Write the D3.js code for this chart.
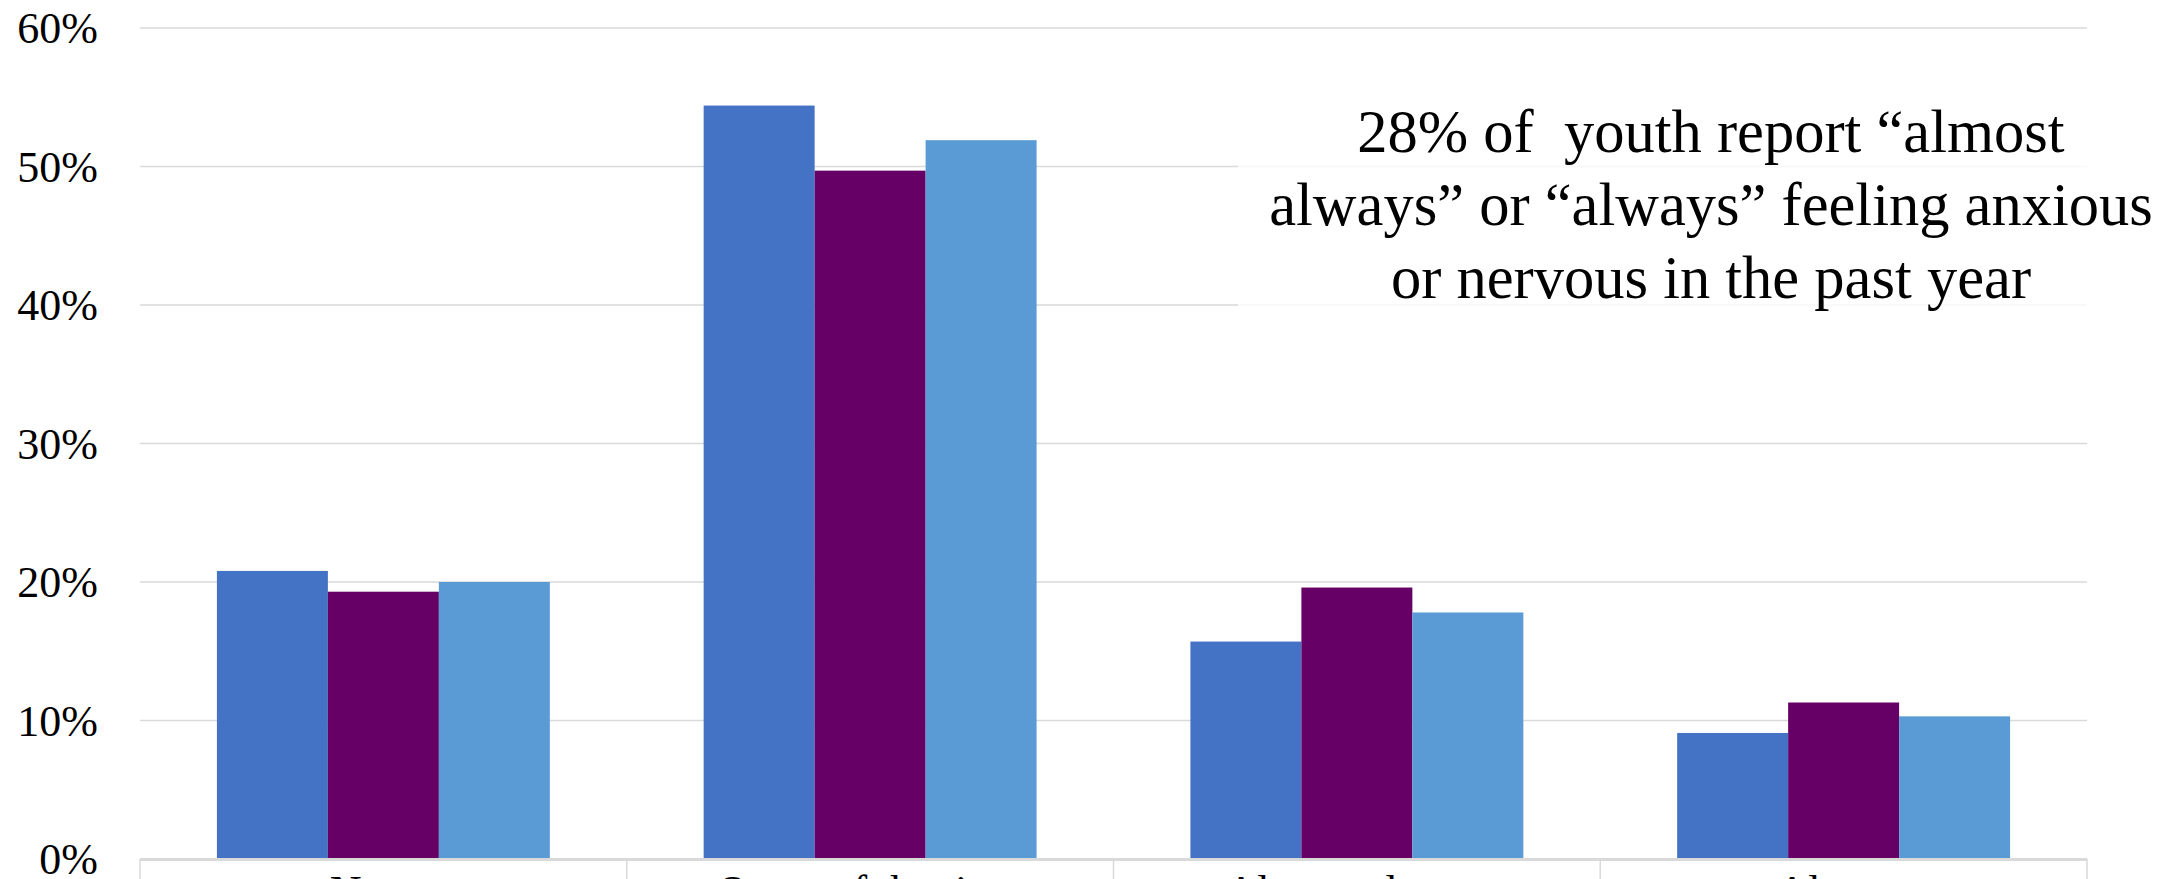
<!DOCTYPE html>
<html>
<head>
<meta charset="utf-8">
<script src="https://cdn.jsdelivr.net/npm/d3@7"></script>
<style>
  html, body { margin: 0; padding: 0; background: #fff; overflow: hidden; }
  svg { display: block; }
</style>
</head>
<body>
<svg id="chart" width="2174" height="879"></svg>
<script>
// ---- data ----
const categories = ["Never", "Some of the time", "Almost always", "Always"];
const seriesNames = ["Series A", "Series B", "Series C"];
const seriesA = [20.8, 54.4, 15.7, 9.1];
const seriesB = [19.3, 49.7, 19.6, 11.3];
const seriesC = [20.0, 51.9, 17.8, 10.3];
const yTicks = [0, 10, 20, 30, 40, 50, 60];
const annotationLines = [
  "28% of  youth report \u201calmost",
  "always\u201d or \u201calways\u201d feeling anxious",
  "or nervous in the past year"
];

// ---- layout ----
const W = 2174, H = 879;
const plotLeft = 140, plotRight = 2087, plotTop = 28, plotBottom = 859;
const colors = ["#4472C4", "#660066", "#5B9BD5"];
const font = "'Liberation Serif', 'Times New Roman', serif";

const svg = d3.select("#chart");

const y = d3.scaleLinear().domain([0, 60]).range([plotBottom, plotTop]);
const x0 = d3.scaleBand().domain(categories).range([plotLeft, plotRight]).padding(0);
const bw = x0.bandwidth();
const x1 = d3.scaleBand().domain(seriesNames).range([bw * 0.158, bw * 0.842]).padding(0);

// gridlines
svg.append("g").selectAll("line").data(yTicks.filter(t => t > 0)).join("line")
  .attr("x1", plotLeft).attr("x2", plotRight)
  .attr("y1", d => y(d)).attr("y2", d => y(d))
  .attr("stroke", "#d9d9d9").attr("stroke-width", 1.5);

// y tick labels via axis
const yAxis = svg.append("g").attr("transform", "translate(98,0)")
  .call(d3.axisLeft(y).tickValues(yTicks).tickFormat(d => d + "%").tickSize(0).tickPadding(0));
yAxis.select(".domain").remove();
yAxis.selectAll("text")
  .attr("font-family", font).attr("font-size", 44).attr("fill", "#000")
  .attr("dy", "0.34em");

// bars
const data = [seriesA, seriesB, seriesC];
const groups = svg.append("g").selectAll("g").data(categories).join("g")
  .attr("transform", d => `translate(${x0(d)},0)`);
groups.selectAll("rect")
  .data((c, i) => seriesNames.map((s, k) => ({ s, v: data[k][i], k })))
  .join("rect")
  .attr("x", d => x1(d.s))
  .attr("width", x1.bandwidth())
  .attr("y", d => y(d.v))
  .attr("height", d => y(0) - y(d.v))
  .attr("fill", d => colors[d.k]);

// category axis (box style)
svg.append("line").attr("x1", plotLeft).attr("x2", plotRight)
  .attr("y1", plotBottom + 0.5).attr("y2", plotBottom + 0.5)
  .attr("stroke", "#d9d9d9").attr("stroke-width", 3);
const bounds = categories.map(c => x0(c)).concat([plotRight]);
svg.append("g").selectAll("line").data(bounds).join("line")
  .attr("x1", d => d).attr("x2", d => d)
  .attr("y1", plotBottom).attr("y2", H)
  .attr("stroke", "#d9d9d9").attr("stroke-width", 1.5);

svg.append("g").selectAll("text").data(categories).join("text")
  .attr("x", d => x0(d) + bw / 2)
  .attr("y", 906)
  .attr("text-anchor", "middle")
  .attr("font-family", font).attr("font-size", 44).attr("fill", "#000")
  .text(d => d);

// annotation
svg.append("rect").attr("x", 1238).attr("y", 78).attr("width", plotRight - 1238 + 2).attr("height", 252)
  .attr("fill", "#fff").attr("fill-opacity", 0.8);
svg.append("g").selectAll("text").data(annotationLines).join("text")
  .attr("x", 1711)
  .attr("y", (d, i) => 152 + i * 73)
  .attr("text-anchor", "middle")
  .attr("font-family", font).attr("font-size", 60.5).attr("fill", "#000")
  .attr("xml:space", "preserve").style("white-space", "pre")
  .text(d => d);
</script>
</body>
</html>
